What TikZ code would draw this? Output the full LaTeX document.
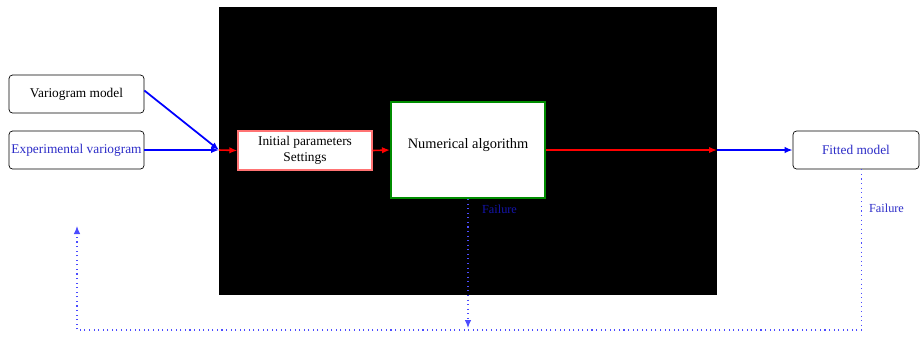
\documentclass[tikz,border=0pt]{standalone}
\usepackage{fontspec}
\setmainfont{Liberation Serif}
\usetikzlibrary{arrows.meta}

\definecolor{labelblue}{RGB}{45,45,200}
\definecolor{darkfail}{RGB}{20,20,170}

\tikzset{
  box/.style={draw, rounded corners=2pt, fill=white, minimum width=2.7cm,
    minimum height=0.76cm, inner sep=0pt, font=\fontsize{7.6}{9}\selectfont},
  initbox/.style={draw=red!55, fill=white, line width=0.8pt, align=center,
    minimum width=2.68cm, minimum height=0.78cm, inner sep=0pt,
    font=\fontsize{7.6}{9}\selectfont},
  algobox/.style={draw=green!55!black, fill=white, line width=1.2pt,
    minimum width=3.08cm, minimum height=1.92cm, text depth=0.26cm,
    font=\fontsize{8.2}{10}\selectfont},
  feed/.style={blue, line width=1pt, -{Latex[length=1.6mm,width=1.3mm]}},
  flow/.style={red, line width=0.9pt, -{Latex[length=1.6mm,width=1.3mm]}},
  fail/.style={blue!70, dotted, semithick},
  failtext/.style={font=\fontsize{7}{8}\selectfont, inner sep=1pt}
}

\begin{document}
\begin{tikzpicture}[x=0.02cm, y=-0.02cm]
  \useasboundingbox (0,0) rectangle (923,336);

  % Background panel
  \fill[black] (219,7) rectangle (717,295);

  % Inputs
  \node[box] (vmodel) at (76.5,94) {Variogram model};
  \node[box, text=labelblue] (expvar) at (76.5,150) {Experimental variogram};

  % Fitting stages
  \node[initbox] (init) at (305,150.5) {Initial parameters\\Settings};
  \node[algobox] (algo) at (468,150) {Numerical algorithm};

  % Output
  \node[box, minimum width=2.52cm, text=labelblue] (fitted) at (856,150) {Fitted model};

  % Entry and exit points on the panel
  \coordinate (inlet) at (219,150);
  \coordinate (outlet) at (717,150);

  % Main flow
  \draw[feed] ([yshift=2pt]vmodel.east) -- (inlet);
  \draw[feed] (expvar.east) -- (inlet);
  \draw[flow] (inlet) -- (init.west);
  \draw[flow] (init.east) -- (algo.west);
  \draw[flow] (algo.east) -- (outlet);
  \draw[feed] (outlet) -- (fitted.west);

  % Failure loop
  \coordinate (loopL) at (77,330);
  \coordinate (loopup) at (77,226);
  \coordinate (algodown) at (468,328);
  \draw[fail, -{Latex[length=1.6mm,width=1.3mm]}] (algo.south) -- (algodown);
  \draw[fail, -{Latex[length=1.6mm,width=1.3mm]}]
    ([xshift=3pt]fitted.south) -- ([xshift=3pt]fitted.south |- loopL) -- (loopL) -- (loopup);

  \node[failtext, text=darkfail, anchor=west] (failA) at (480,209) {Failure};
  \node[failtext, text=labelblue, anchor=west] (failB) at (867,208) {Failure};
\end{tikzpicture}
\end{document}
